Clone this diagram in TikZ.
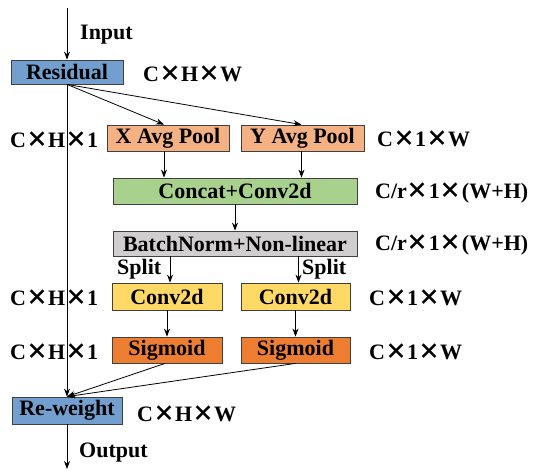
\documentclass[tikz,border=0pt]{standalone}
\usepackage{fontspec}
\setmainfont{Liberation Serif}
\newfontfamily\cjkfont{Noto Sans CJK SC}
\newcommand{\tm}{{\cjkfont ×}}
\usetikzlibrary{arrows.meta}
\definecolor{cblue}{HTML}{729FCF}
\definecolor{csalmon}{HTML}{F4B183}
\definecolor{cgreen}{HTML}{A9D18E}
\definecolor{cgray}{HTML}{D0CECE}
\definecolor{cyellow}{HTML}{FFD966}
\definecolor{corange}{HTML}{ED7D31}
\begin{document}
\begin{tikzpicture}[x=1pt,y=-1pt,
  font=\bfseries\fontsize{22}{24}\selectfont,
  box/.style={draw=black!75, line width=0.8pt, inner sep=0pt, align=center},
  lbl/.style={anchor=west, inner sep=0pt, yshift=-1.5pt},
  arr/.style={-{Stealth[length=8pt,width=6pt]}, line width=0.8pt}]
\useasboundingbox (0,0) rectangle (533,471);
% boxes
\node[box, fill=cblue, minimum width=112pt, minimum height=24pt] (res) at (67,72) {Residual};
\node[box, fill=csalmon, minimum width=122pt, minimum height=26pt] (xp) at (168,138) {X Avg Pool};
\node[box, fill=csalmon, minimum width=123pt, minimum height=26pt] (yp) at (302.5,138) {Y Avg Pool};
\node[box, fill=cgreen, minimum width=244pt, minimum height=26pt] (cc) at (235,191) {Concat+Conv2d};
\node[box, fill=cgray, minimum width=244pt, minimum height=25pt] (bn) at (235,243.5) {BatchNorm+Non-linear};
\node[box, fill=cyellow, minimum width=110pt, minimum height=27pt] (cl) at (167,296.5) {Conv2d};
\node[box, fill=cyellow, minimum width=109pt, minimum height=27pt] (cr) at (295.5,296.5) {Conv2d};
\node[box, fill=corange, minimum width=110pt, minimum height=26pt] (sl) at (167,350) {Sigmoid};
\node[box, fill=corange, minimum width=109pt, minimum height=26pt] (sr) at (295.5,350) {Sigmoid};
\node[box, fill=cblue, minimum width=110pt, minimum height=27pt] (rw) at (67,410.5) {Re-weight};
\coordinate (in) at (67,8);
\coordinate (out) at (67,469);
% labels
\node[lbl] (tin) at (80,33) {Input};
\node[lbl] (tout) at (79,451) {Output};
\node[lbl] (l1) at (143,72) {C\tm H\tm W};
\node[lbl] (l2) at (10,138) {C\tm H\tm 1};
\node[lbl] (l3) at (377,137) {C\tm 1\tm W};
\node[lbl] (l4) at (375,191) {C/r\tm 1\tm (W+H)};
\node[lbl] (l5) at (375,243) {C/r\tm 1\tm (W+H)};
\node[lbl] (l6) at (10,296) {C\tm H\tm 1};
\node[lbl] (l7) at (369,296) {C\tm 1\tm W};
\node[lbl] (l8) at (10,350) {C\tm H\tm 1};
\node[lbl] (l9) at (369,350) {C\tm 1\tm W};
\node[lbl] (l10) at (137,412) {C\tm H\tm W};
\node[lbl] (sp1) at (117,268) {Split};
\node[lbl] (sp2) at (302,268) {Split};
% connectors
\draw[arr] (in) -- (res.north);
\draw[arr] (res.south) -- (rw.north);
\draw[arr] (res.south) -- ([xshift=-4pt]xp.north);
\draw[arr] (res.south) -- ([xshift=-1pt]yp.north);
\draw[arr] ([xshift=-4pt]xp.south) -- ([xshift=-4pt]xp.south |- cc.north);
\draw[arr] ([xshift=-1pt]yp.south) -- ([xshift=-1pt]yp.south |- cc.north);
\draw[arr] (cc.south) -- (bn.north);
\draw[arr] ([xshift=3pt]cl.north |- bn.south) -- ([xshift=3pt]cl.north);
\draw[arr] ([xshift=3pt]cr.north |- bn.south) -- ([xshift=3pt]cr.north);
\draw[arr] (cl.south) -- (sl.north);
\draw[arr] (cr.south) -- (sr.north);
\draw[arr] ([xshift=-2pt]sl.south) -- (rw.north);
\draw[arr] (sr.south) -- (rw.north);
\draw[arr] (rw.south) -- (out);
\end{tikzpicture}
\end{document}
